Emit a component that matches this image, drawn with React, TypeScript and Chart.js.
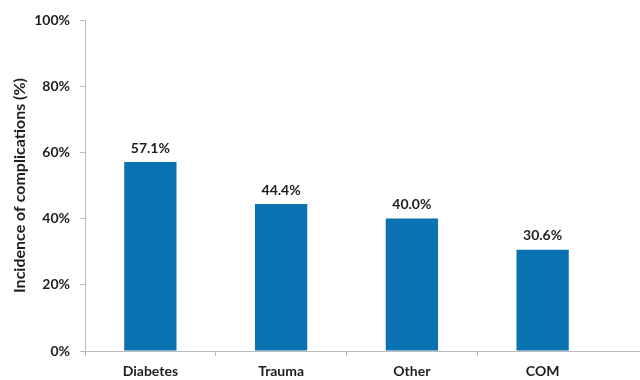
import React, { useEffect, useRef } from "react";
import { Chart, registerables } from "chart.js";

Chart.register(...registerables);

const categories = ["Diabetes", "Trauma", "Other", "COM"];
const values = [57.1, 44.4, 40.0, 30.6];
const yTicks = [0, 20, 40, 60, 80, 100];
const yTitle = "Incidence of complications (%)";

const FONT = "Lato, 'Open Sans', sans-serif";
const TEXT = "#1e1e1e";
const AXIS = "#bcbcbc";
const BAR = "#0a72b1";

const isTick = (c: any) => c && c.type === "tick" && c.index < categories.length;

const labelPlugin = {
  id: "barLabels",
  afterDatasetsDraw(chart: any) {
    const ctx = chart.ctx;
    const meta = chart.getDatasetMeta(0);
    ctx.save();
    ctx.font = `bold 14px ${FONT}`;
    ctx.fillStyle = TEXT;
    ctx.textAlign = "center";
    ctx.textBaseline = "bottom";
    meta.data.forEach((bar: any, i: number) => {
      ctx.fillText(values[i].toFixed(1) + "%", bar.x, bar.y - 7);
    });
    ctx.restore();
  },
  afterDraw(chart: any) {
    const { ctx, chartArea, width } = chart;
    ctx.save();
    ctx.strokeStyle = AXIS;
    ctx.lineWidth = 1;
    ctx.beginPath();
    ctx.moveTo(chartArea.right, chartArea.bottom + 0.5);
    ctx.lineTo(width, chartArea.bottom + 0.5);
    ctx.stroke();
    ctx.translate(20, (chartArea.top + chartArea.bottom) / 2);
    ctx.rotate(-Math.PI / 2);
    ctx.font = `bold 16px ${FONT}`;
    ctx.fillStyle = TEXT;
    ctx.textAlign = "center";
    ctx.textBaseline = "middle";
    ctx.fillText(yTitle, 0, 0);
    ctx.restore();
  },
};

export default function App() {
  const ref = useRef<HTMLCanvasElement>(null);
  useEffect(() => {
    if (!ref.current) return;
    const chart = new Chart(ref.current, {
      type: "bar",
      data: {
        labels: categories,
        datasets: [
          {
            data: values,
            backgroundColor: BAR,
            borderWidth: 0,
            barPercentage: 0.8,
            categoryPercentage: 0.5,
          },
        ],
      },
      options: {
        responsive: false,
        animation: false,
        layout: { padding: { top: 20, right: 32, left: 0, bottom: 0 } },
        plugins: { legend: { display: false }, tooltip: { enabled: false } },
        scales: {
          x: {
            grid: {
              display: true,
              drawOnChartArea: false,
              drawTicks: true,
              tickLength: 5,
              color: (c: any) => (isTick(c) ? AXIS : "rgba(0,0,0,0)"),
              tickColor: (c: any) => (isTick(c) ? AXIS : "rgba(0,0,0,0)"),
              lineWidth: (c: any) => (isTick(c) ? 1 : 0),
              tickWidth: (c: any) => (isTick(c) ? 1 : 0),
              offset: true,
            },
            border: { color: AXIS },
            ticks: { color: TEXT, font: { family: FONT, size: 14, weight: "bold" }, padding: 7 },
            afterFit: (s: any) => { s.height = 29; },
          },
          y: {
            min: 0,
            max: 100,
            afterBuildTicks: (s: any) => { s.ticks = yTicks.map((v) => ({ value: v })); },
            grid: { display: true, drawOnChartArea: false, drawTicks: true, tickLength: 5, color: AXIS },
            border: { color: AXIS },
            ticks: {
              color: TEXT,
              font: { family: FONT, size: 14, weight: "bold" },
              padding: 10,
              callback: (v: any) => v + "%",
            },
            afterFit: (s: any) => { s.width = 85; },
          },
        },
      },
      plugins: [labelPlugin],
    });
    return () => chart.destroy();
  }, []);
  return (
    <div style={{ position: "absolute", left: 0, top: 0, width: 640, height: 380, background: "#fff" }}>
      <canvas ref={ref} width={640} height={380} />
    </div>
  );
}
